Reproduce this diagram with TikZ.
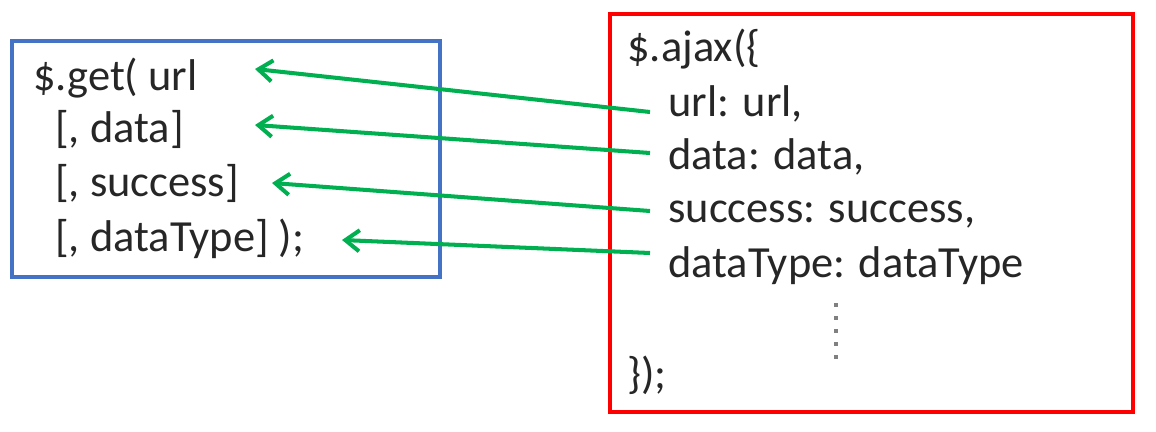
\documentclass[tikz,border=0pt]{standalone}
\usepackage{fontspec}
\setmainfont{Carlito}
\usetikzlibrary{arrows.meta}
\definecolor{linkgreen}{RGB}{0,176,80}
\definecolor{getblue}{RGB}{68,114,196}
\definecolor{ajaxred}{RGB}{255,0,0}

\begin{document}
\begin{tikzpicture}[x=0.02cm, y=-0.02cm,
  code/.style={anchor=base west, inner sep=0pt, text=black!85, font=\fontsize{25.3}{30}\selectfont},
  link/.style={draw=linkgreen, line width=2.3pt, -{Straight Barb[length=8pt,width=12pt]}}]
\useasboundingbox (0,0) rectangle (1156,432);
% the two boxes
\draw[getblue, line width=2pt] (12,41) rectangle (440,277);
\draw[ajaxred, line width=2.3pt] (610,14) rectangle (1133,412);
% $.get side
\node[code] (g1) at (33,91) {\$.get( url};
\node[code] (g2) at (55,143) {[, data]};
\node[code] (g3) at (55,197) {[, success]};
\node[code] (g4) at (55,252) {[, dataType] );};
% $.ajax side
\node[code] (a0) at (627,62) {\$.ajax(\{};
\node[code] (a1) at (668,117) {url: url,};
\node[code] (a2) at (668,170) {data: data,};
\node[code] (a3) at (668,223) {success: success,};
\node[code] (a4) at (668,277) {dataType: dataType};
\node[code] (a5) at (627,388) {\});};
\foreach \y in {303,316,329,342,355}
  \fill[gray] (834,\y) rectangle +(4,4);
% arrow ends
\coordinate (s1) at (650,112);
\coordinate (s2) at (650,153);
\coordinate (s3) at (650,211);
\coordinate (s4) at (650,253);
\coordinate (e1) at (255,69);
\coordinate (e2) at (255,125);
\coordinate (e3) at (272,183);
\coordinate (e4) at (342,240);
\draw[link] (s1) -- (e1);
\draw[link] (s2) -- (e2);
\draw[link] (s3) -- (e3);
\draw[link] (s4) -- (e4);
\end{tikzpicture}
\end{document}
